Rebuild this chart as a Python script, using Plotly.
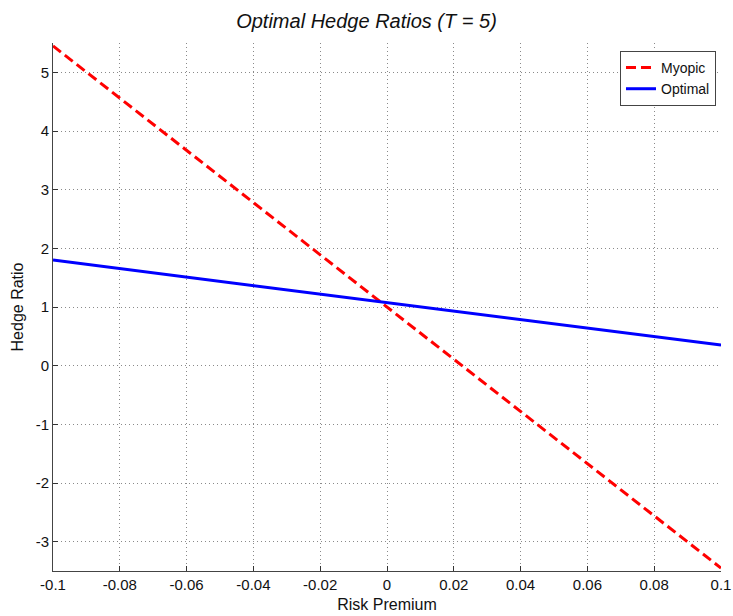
import plotly.graph_objects as go

risk_premium = [-0.1, 0.1]
myopic = [5.45, -3.45]
optimal = [1.80, 0.35]

x_ticks = [-0.1, -0.08, -0.06, -0.04, -0.02, 0, 0.02, 0.04, 0.06, 0.08, 0.1]
x_labels = ["-0.1", "-0.08", "-0.06", "-0.04", "-0.02", "0", "0.02", "0.04", "0.06", "0.08", "0.1"]
y_ticks = [-3, -2, -1, 0, 1, 2, 3, 4, 5]
y_labels = ["-3", "-2", "-1", "0", "1", "2", "3", "4", "5"]

fig = go.Figure()
fig.add_trace(go.Scatter(x=risk_premium, y=myopic, mode="lines", name="Myopic",
                         line=dict(color="#ff0000", width=3, dash="10px,5px")))
fig.add_trace(go.Scatter(x=risk_premium, y=optimal, mode="lines", name="Optimal",
                         line=dict(color="#0000ff", width=3)))

font_family = "Liberation Sans, Arial, sans-serif"
fig.update_layout(
    width=733, height=616,
    margin=dict(l=53, r=12, t=43, b=45),
    paper_bgcolor="white", plot_bgcolor="white",
    font=dict(family=font_family, size=15, color="#111"),
    title=dict(text="<i>Optimal Hedge Ratios (T = 5)</i>", x=0.5, xanchor="center",
               y=0.966, yanchor="middle", font=dict(size=20, color="#111")),
    showlegend=True,
    legend=dict(x=0.9925, y=0.985, xanchor="right", yanchor="top",
                bgcolor="white", bordercolor="#444", borderwidth=1,
                font=dict(size=14, color="#111"), tracegroupgap=0),
    xaxis=dict(range=[-0.1, 0.1], tickvals=x_ticks, ticktext=x_labels,
               showgrid=True, gridcolor="#8a8a8a", griddash="1px,3px", gridwidth=1,
               showline=True, linecolor="#444", linewidth=1,
               ticks="inside", ticklen=5, tickcolor="#333", zeroline=False,
               automargin=False,
               title=dict(text="Risk Premium", standoff=6, font=dict(size=16)),
               tickfont=dict(size=15)),
    yaxis=dict(range=[-3.5, 5.5], tickvals=y_ticks, ticktext=y_labels,
               showgrid=True, gridcolor="#8a8a8a", griddash="1px,3px", gridwidth=1,
               showline=True, linecolor="#444", linewidth=1,
               ticks="inside", ticklen=5, tickcolor="#333", zeroline=False,
               automargin=False,
               title=dict(text="Hedge Ratio", standoff=8, font=dict(size=16)),
               tickfont=dict(size=15)),
)

fig.write_html("out.html")
